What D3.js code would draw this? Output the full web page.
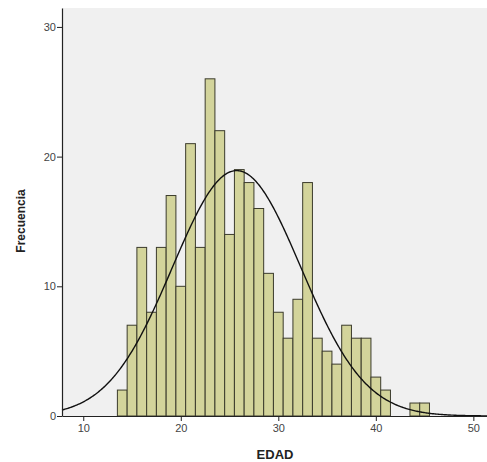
<!DOCTYPE html>
<html><head><meta charset="utf-8">
<script src="https://cdn.jsdelivr.net/npm/d3@7"></script>
<style>body{margin:0;background:#fff}svg{display:block}</style>
</head><body>
<svg id="c" width="487" height="462"></svg>
<script>
const ages   = [14,15,16,17,18,19,20,21,22,23,24,25,26,27,28,29,30,31,32,33,34,35,36,37,38,39,40,41,44,45];
const counts = [ 2, 7,13, 8,13,17,10,21,13,26,22,14,19,18,16,11, 8, 6, 9,18, 6, 5, 4, 7, 6, 6, 3, 2, 1, 1];
const xTicks = [10,20,30,40,50];
const yTicks = [0,10,20,30];

(function(){
const svg = d3.select("#c");
const pL = 62, pR = 487, pT = 8, pB = 416;
const x = d3.scaleLinear().domain([7.82, 51.4]).range([pL, pR]);
const y = d3.scaleLinear().domain([0, 31.46]).range([pB, pT]);

svg.append("rect").attr("x", pL).attr("y", pT).attr("width", pR-pL).attr("height", pB-pT).attr("fill", "#f0f0f0");

// bars
svg.append("g").selectAll("rect").data(ages).join("rect")
  .attr("x", (d) => x(d-0.5))
  .attr("width", (d) => x(d+0.5)-x(d-0.5))
  .attr("y", (d,i) => y(counts[i]))
  .attr("height", (d,i) => y(0)-y(counts[i]))
  .attr("fill", "#d3d49b")
  .attr("stroke", "#3b3b2c")
  .attr("stroke-width", 1);

// normal curve
const N = d3.sum(counts);
const mean = d3.sum(ages.map((a,i)=>a*counts[i]))/N;
const sd = Math.sqrt(d3.sum(ages.map((a,i)=>counts[i]*(a-mean)**2))/(N-1));
const pts = d3.range(7.82, 51.4, 0.1).concat([51.4]);
const line = d3.line().x(d=>x(d)).y(d=>y(N/(sd*Math.sqrt(2*Math.PI))*Math.exp(-0.5*((d-mean)/sd)**2)));
svg.append("path").datum(pts).attr("d", line).attr("fill","none").attr("stroke","#111").attr("stroke-width",1.4);

// axes
const xAxis = svg.append("g").attr("transform",`translate(0,${pB})`)
  .call(d3.axisBottom(x).tickValues(xTicks).tickSize(5).tickSizeOuter(0));
const yAxis = svg.append("g").attr("transform",`translate(${pL},0)`)
  .call(d3.axisLeft(y).tickValues(yTicks).tickSize(5).tickSizeOuter(0));
[xAxis,yAxis].forEach(g=>{
  g.select(".domain").attr("stroke","#222").attr("stroke-width",1.2);
  g.selectAll(".tick line").attr("stroke","#222");
  g.selectAll(".tick text").attr("fill","#444").attr("font-family","Liberation Sans, Arial, sans-serif").attr("font-size","11px");
});
yAxis.selectAll(".tick text").attr("x",-6);

svg.append("text").attr("x", 275).attr("y", 459).attr("text-anchor","middle")
  .attr("font-family","Liberation Sans, Arial, sans-serif").attr("font-weight","bold").attr("font-size","13px").attr("fill","#222").text("EDAD");
svg.append("text").attr("transform","translate(25,221) rotate(-90)").attr("text-anchor","middle")
  .attr("font-family","Liberation Sans, Arial, sans-serif").attr("font-weight","bold").attr("font-size","12px").attr("fill","#222").text("Frecuencia");
})();
</script>
</body></html>
